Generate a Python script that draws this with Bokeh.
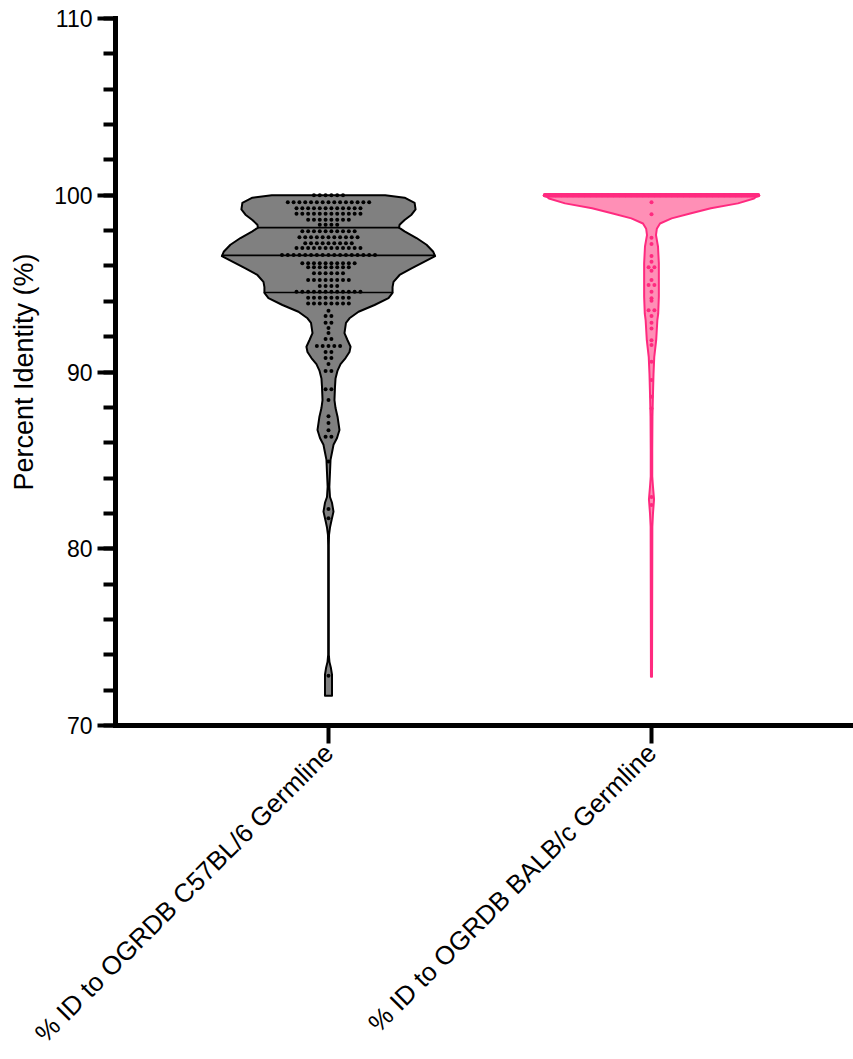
import numpy as np
from bokeh.plotting import figure
from bokeh.models import Range1d, SingleIntervalTicker, FixedTicker
from bokeh.embed import file_html
from bokeh.resources import INLINE

# ---------------- data ----------------
categories = ["% ID to OGRDB C57BL/6 Germline", "% ID to OGRDB BALB/c Germline"]
y_label = "Percent Identity (%)"

# violin outlines: value level and relative density (max = 1)
c57_prof_val = [100.0, 99.86, 99.57, 99.2, 98.9, 98.6, 98.33, 98.17, 97.96, 97.58, 97.2,
                96.8, 96.56, 96.24, 95.86, 95.49, 95.1, 94.8, 94.48, 94.18, 93.79, 93.41,
                93.04, 92.78, 92.2, 91.81, 91.43, 91.13, 90.79, 90.45, 90.08, 89.63, 89.17,
                88.41, 87.96, 87.47, 86.72, 86.27, 85.88, 85.6, 85.03, 84.3, 83.5, 82.93,
                82.6, 82.1, 81.6, 81.2, 80.78, 80.2, 74.0, 73.6, 73.25, 72.87, 72.47, 72.02, 71.68]
c57_prof_den = [0.532, 0.714, 0.808, 0.817, 0.779, 0.714, 0.667, 0.662, 0.714, 0.826, 0.920,
                0.983, 1.0, 0.901, 0.779, 0.667, 0.610, 0.601, 0.601, 0.563, 0.432, 0.282,
                0.197, 0.164, 0.150, 0.178, 0.207, 0.197, 0.160, 0.113, 0.085, 0.066, 0.061,
                0.056, 0.066, 0.085, 0.103, 0.080, 0.047, 0.038, 0.019, 0.014, 0.008, 0.014,
                0.033, 0.047, 0.028, 0.014, 0.005, 0.003, 0.003, 0.009, 0.023, 0.033, 0.033, 0.033, 0.033]

balb_prof_val = [100.0, 99.82, 99.54, 99.26, 98.97, 98.69, 98.4, 98.1, 97.75, 97.1, 96.15,
                 95.2, 94.26, 93.3, 92.94, 91.8, 90.86, 89.9, 88.8, 87.47, 85.6, 84.1,
                 83.5, 82.8, 82.0, 81.25, 72.76]
balb_prof_den = [1.0, 0.962, 0.811, 0.557, 0.363, 0.189, 0.080, 0.050, 0.042, 0.061, 0.069,
                 0.069, 0.069, 0.063, 0.055, 0.044, 0.026, 0.019, 0.014, 0.009, 0.007, 0.007,
                 0.014, 0.024, 0.014, 0.008, 0.005]

# quartiles (Q1, median, Q3)
c57_quartiles = [94.5, 96.6, 98.17]
balb_quartiles = [100.0, 100.0, 100.0]

# individual points: value levels and number of points at each level
c57_dot_val = [100.0, 99.6, 99.27, 98.95, 98.61, 98.33, 97.96, 97.62, 97.29, 97.01, 96.62,
               96.15, 95.92, 95.58, 95.2, 94.86, 94.54, 94.2, 93.88, 93.47, 93.17, 92.79,
               92.49, 92.21, 91.87, 91.47, 91.13, 90.79, 90.45, 90.05, 89.03, 88.41, 87.5,
               87.11, 86.71, 86.34, 84.93, 82.25, 81.73, 72.81]
c57_dot_cnt = [6, 15, 12, 12, 8, 4, 10, 11, 9, 12, 17,
               10, 8, 6, 8, 4, 12, 8, 8, 1, 2, 2,
               1, 1, 2, 5, 2, 2, 1, 2, 2, 1, 1,
               1, 1, 2, 1, 1, 1, 1]

balb_dot_val = [100.0, 99.6, 98.93, 97.6, 97.24, 96.56, 96.24, 95.92, 95.73, 95.2, 94.92,
                94.54, 94.17, 94.03, 93.5, 93.17, 92.79, 92.46, 91.8, 91.53, 90.58, 89.55,
                88.6, 87.93, 82.93, 82.48]
balb_dot_cnt = [36, 1, 1, 1, 1, 1, 1, 2, 1, 1, 2,
                1, 1, 1, 2, 1, 1, 1, 1, 1, 1, 1,
                1, 1, 1, 1]

y_min, y_max = 70, 110

# ---------------- styling ----------------
HALF = 0.33       # max violin half-width in x data units
DOT_STEP = 0.018  # horizontal spacing between points
GRAY_FILL, GRAY_LINE = "#808080", "#000000"
PINK_FILL, PINK_LINE = "#ff8fb6", "#ff2a7f"
FONT = "Liberation Sans"


def violin(cx, vals, dens):
    v = np.asarray(vals, float)
    d = np.asarray(dens, float) * HALF
    xs = np.concatenate([cx - d, (cx + d)[::-1]])
    ys = np.concatenate([v, v[::-1]])
    return xs, ys


def dots(cx, vals, cnts):
    xs, ys = [], []
    for v, n in zip(vals, cnts):
        for i in range(n):
            xs.append(cx + (i - (n - 1) / 2) * DOT_STEP)
            ys.append(v)
    return xs, ys


def qlines(cx, vals, dens, qs):
    v = np.asarray(vals, float)[::-1]
    d = np.asarray(dens, float)[::-1]
    x0s, x1s = [], []
    for q in qs:
        w = np.interp(q, v, d) * HALF
        x0s.append(cx - w)
        x1s.append(cx + w)
    return x0s, x1s


p = figure(frame_width=738, frame_height=707,
           x_range=Range1d(0.3406, 2.6254), y_range=Range1d(y_min, y_max),
           output_backend="svg", toolbar_location=None,
           min_border_left=115, min_border_top=18, min_border_right=0, min_border_bottom=0)
p.outline_line_color = None
p.grid.visible = False
p.background_fill_color = "white"
p.border_fill_color = "white"

groups = [
    (1, c57_prof_val, c57_prof_den, c57_quartiles, c57_dot_val, c57_dot_cnt, GRAY_FILL, GRAY_LINE, 1.6),
    (2, balb_prof_val, balb_prof_den, balb_quartiles, balb_dot_val, balb_dot_cnt, PINK_FILL, PINK_LINE, 4.0),
]
for cx, pv, pd, qs, dv, dc, fc, lc, qlw in groups:
    xs, ys = violin(cx, pv, pd)
    p.patch(xs, ys, fill_color=fc, line_color=lc, line_width=2, line_join="round")
    dx, dy = dots(cx, dv, dc)
    p.scatter(dx, dy, size=4, fill_color=lc, line_color=None)
    x0s, x1s = qlines(cx, pv, pd, qs)
    p.segment(x0=x0s, y0=qs, x1=x1s, y1=qs, line_color=lc, line_width=qlw, line_cap="round")

# y axis
ya = p.yaxis[0]
ya.ticker = SingleIntervalTicker(interval=10, num_minor_ticks=5)
ya.axis_line_width = 5
ya.axis_line_cap = "square"
ya.major_tick_line_width = 4
ya.minor_tick_line_width = 4
ya.major_tick_out = 18
ya.major_tick_in = 0
ya.minor_tick_out = 12
ya.minor_tick_in = 0
ya.major_label_text_font = FONT
ya.major_label_text_font_size = "23px"
ya.major_label_text_color = "black"
ya.major_label_standoff = 5
ya.axis_label = y_label
ya.axis_label_text_font = FONT
ya.axis_label_text_font_size = "27px"
ya.axis_label_text_font_style = "normal"
ya.axis_label_text_color = "black"
ya.axis_label_standoff = 12

# x axis
xa = p.xaxis[0]
xa.ticker = FixedTicker(ticks=[1, 2])
xa.major_label_overrides = {1: categories[0], 2: categories[1]}
xa.major_label_orientation = np.pi / 4
xa.axis_line_width = 5
xa.axis_line_cap = "square"
xa.major_tick_line_width = 4
xa.major_tick_out = 18
xa.major_tick_in = 0
xa.minor_tick_line_color = None
xa.major_label_text_font = FONT
xa.major_label_text_font_size = "26px"
xa.major_label_text_color = "black"
xa.major_label_standoff = 5

open("out.html", "w").write(file_html(p, INLINE))
